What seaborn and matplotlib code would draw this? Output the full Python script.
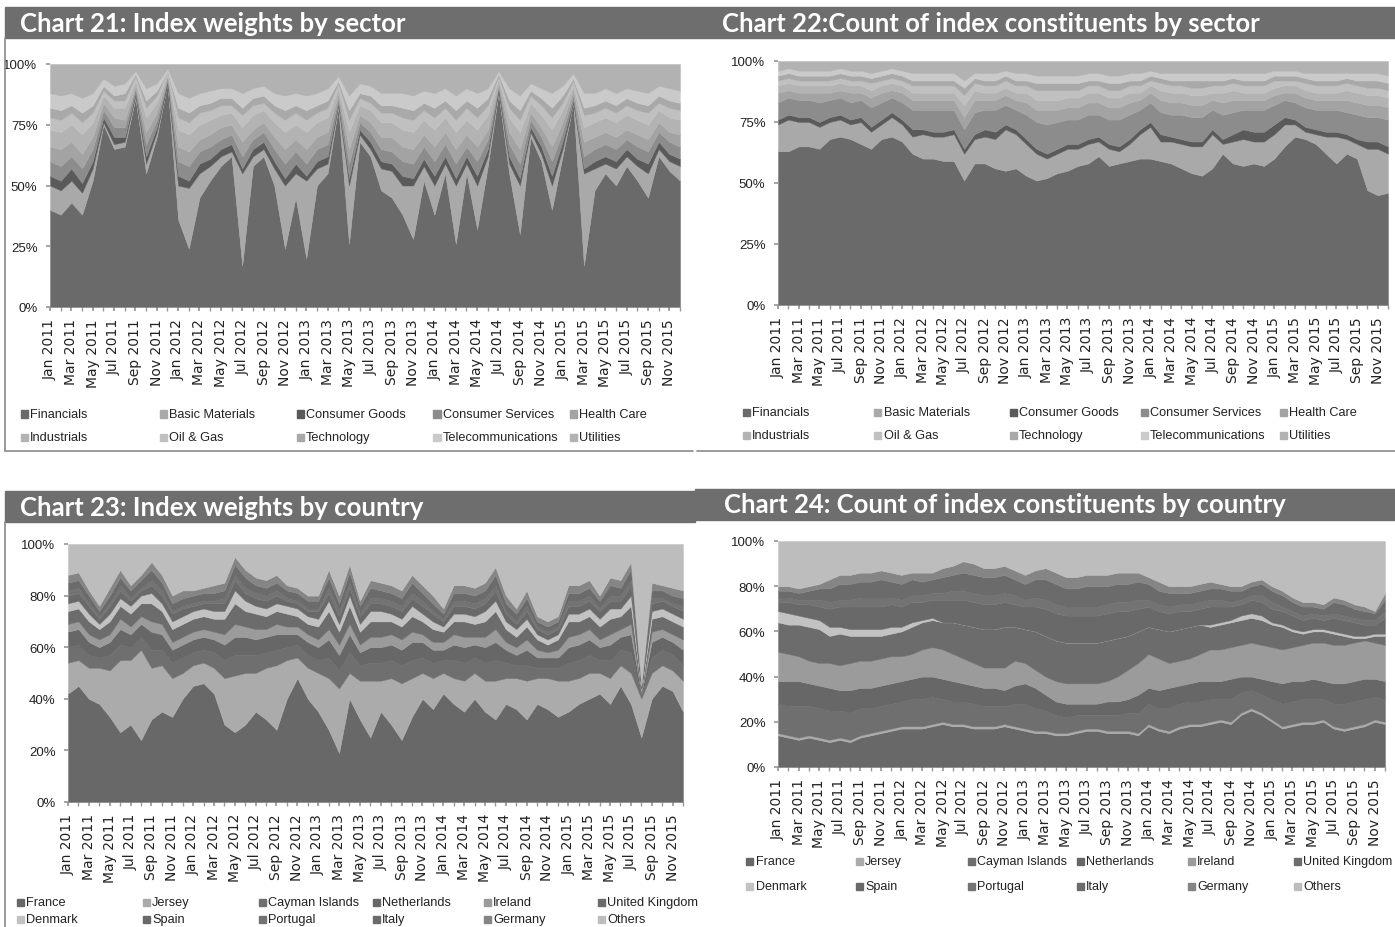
import numpy as np
import pandas as pd
import matplotlib
matplotlib.use("Agg")
import matplotlib.pyplot as plt
import seaborn as sns
from matplotlib.patches import Rectangle
from matplotlib.lines import Line2D

sns.set_theme(style="white")
plt.rcParams['font.family'] = ['DejaVu Sans']

W, H = 1395, 928
MONTHS = pd.date_range("2011-01-01", periods=60, freq="MS")
TICK_LABELS = [d.strftime("%b %Y") for d in MONTHS[::2]]

# ---------------- Sector data ----------------
SECTORS = ["Financials", "Basic Materials", "Consumer Goods", "Consumer Services", "Health Care",
           "Industrials", "Oil & Gas", "Technology", "Telecommunications", "Utilities"]
SECTOR_COLORS = ["#6a6a6a", "#a9a9a9", "#5a5a5a", "#8c8c8c", "#a3a3a3",
                 "#b3b3b3", "#c0c0c0", "#a9a9a9", "#cacaca", "#b2b2b2"]

# Chart 21: index weights by sector (%)
fin21 = [40,38,43,38,52,75,65,66,86,55,70,92, 36,24,45,52,58,62,17,58,62,50,24,45,
         20,50,55,82,26,68,62,48,45,38,28,52, 38,55,26,55,32,58,88,55,30,70,60,40,
         62,84,17,48,55,50,58,52,45,62,56,52]
bm21 = [10,10,9,9,5,1,2,2,1,4,2,0, 14,25,10,6,4,2,38,4,3,7,26,10,
        32,7,4,1,24,3,3,9,11,12,22,6, 12,4,24,4,18,4,1,4,20,2,3,10,
        3,0,38,9,4,7,4,6,10,3,4,6]
cg21 = [4,4,5,4,3,2,3,2,1,3,2,1, 4,3,4,3,3,3,2,3,3,3,3,4,
        2,3,3,1,3,2,3,3,3,4,3,3, 4,3,3,3,4,3,1,3,3,2,3,4,
        3,1,2,3,3,3,3,3,4,3,3,3]
cs21 = [6,6,5,6,5,3,4,4,2,5,3,1, 6,6,5,5,4,4,5,4,4,5,6,5,
        5,5,5,2,6,3,4,5,5,6,6,5, 6,5,6,4,6,4,1,5,6,3,4,6,
        4,2,5,5,5,5,4,5,5,4,5,5]
hc21 = [6,7,6,6,5,3,4,3,1,5,3,1, 6,6,5,5,5,4,6,4,4,5,6,5,
        6,5,5,2,6,3,4,5,6,6,6,5, 6,5,6,5,6,4,1,5,6,3,4,6,
        4,2,6,5,5,5,4,5,5,4,4,5]
in21 = [7,7,7,8,6,3,4,5,2,6,4,1, 7,7,6,6,5,5,6,6,5,6,7,6,
        7,6,6,2,7,4,5,6,6,7,7,6, 7,6,7,6,7,6,2,6,7,4,5,7,
        5,2,6,6,6,6,6,6,6,5,6,6]
og21 = [5,5,5,5,4,2,3,3,2,4,3,1, 5,5,5,4,4,3,5,4,3,4,5,5,
        5,4,4,2,5,3,3,4,4,5,5,4, 5,4,5,5,5,4,1,4,5,3,4,5,
        3,2,5,4,4,4,4,4,5,3,4,4]
te21 = [4,4,3,4,3,2,2,3,1,3,2,0, 4,4,3,3,3,3,3,3,3,3,4,3,
        4,3,3,1,4,2,3,3,3,4,4,3, 4,3,4,3,4,3,1,3,4,2,3,4,
        3,1,3,3,3,3,3,3,3,3,3,3]
tc21 = [6,6,5,6,5,3,4,4,1,5,3,1, 6,6,5,5,4,4,6,4,4,5,6,5,
        6,5,5,2,6,4,4,5,5,6,6,5, 6,5,6,5,6,4,1,5,6,3,4,6,
        4,2,6,5,5,5,4,5,5,4,5,5]
ut21 = [12,13,12,14,12,6,9,8,3,10,8,2, 12,14,12,11,10,10,12,10,9,12,13,12,
        13,12,10,5,13,8,9,12,12,12,13,11, 12,10,13,10,12,10,3,10,13,8,10,12,
        9,4,12,12,10,12,10,11,12,9,10,11]

# Chart 22: count of constituents by sector (%)
fin22 = [63,63,65,65,64,68,69,68,66,64,68,69, 67,62,60,60,59,59,51,58,58,56,55,56,
         53,51,52,54,55,57,58,61,57,58,59,60, 60,59,58,56,54,53,56,62,58,57,58,57,
         60,65,69,68,66,62,58,62,60,47,45,46]
bm22 = [11,13,10,10,9,7,7,6,9,7,6,8, 7,7,10,9,10,11,11,10,11,12,17,14,
        13,11,8,8,9,7,8,6,7,5,7,10, 13,8,9,10,11,12,14,4,9,11,9,10,
        10,9,5,3,4,7,11,6,6,17,19,16]
cg22 = [2,2,2,2,2,2,2,2,2,2,2,2, 2,3,2,2,2,2,2,2,3,3,2,2,
        2,2,2,2,2,2,2,2,2,2,2,2, 2,3,2,2,2,2,2,2,3,4,4,4,
        4,3,2,2,2,2,2,2,2,3,3,3]
cs22 = [7,7,7,7,8,7,7,7,7,8,7,6, 7,8,8,9,9,8,8,9,8,9,8,8,
        10,11,12,11,10,10,10,9,10,11,10,8, 8,9,9,10,10,10,8,10,9,8,9,9,
        8,7,7,8,8,9,9,9,10,10,10,11]
hc22 = [4,3,3,3,4,3,3,4,3,4,4,3, 4,4,4,4,4,4,5,5,4,4,4,4,
        5,5,6,5,5,5,5,5,5,5,5,4, 4,5,5,5,5,5,4,5,5,4,4,4,
        4,3,4,4,4,4,4,5,5,5,5,5]
in22 = [3,3,3,3,3,3,3,3,3,3,3,3, 3,3,3,3,3,3,5,4,3,3,3,3,
        4,4,4,4,4,4,4,4,4,4,4,3, 3,4,4,4,4,4,3,4,4,3,3,3,
        3,3,3,3,3,3,3,4,4,4,4,4]
og22 = [2,2,2,2,2,2,2,2,2,3,2,2, 2,3,3,3,3,3,4,3,3,3,3,3,
        3,4,4,4,3,3,3,3,3,3,3,3, 2,3,3,3,3,3,3,3,3,3,3,3,
        3,2,2,3,3,3,3,3,3,3,3,3]
te22 = [2,2,2,2,2,2,2,2,2,2,2,2, 2,2,2,2,2,2,3,2,2,2,2,2,
        2,3,3,3,3,3,2,2,3,3,2,2, 2,2,2,2,3,3,2,2,2,2,2,2,
        2,2,2,2,2,2,2,2,2,3,3,3]
tc22 = [2,2,2,2,2,2,2,2,2,2,2,2, 2,3,3,3,3,3,3,2,3,3,2,3,
        3,3,3,3,3,3,3,3,3,3,3,3, 2,2,3,3,3,3,3,3,2,3,3,3,
        2,2,2,2,3,3,3,2,3,3,3,3]
ut22 = [4,3,4,4,4,4,3,4,4,5,4,3, 4,5,5,5,5,5,8,5,5,5,4,5,
        5,6,6,6,6,6,5,5,6,6,5,5, 4,5,5,5,5,5,5,5,5,5,5,5,
        4,4,4,5,5,5,5,5,5,5,5,6]

# ---------------- Country data ----------------
COUNTRIES = ["France", "Jersey", "Cayman Islands", "Netherlands", "Ireland", "United Kingdom",
             "Denmark", "Spain", "Portugal", "Italy", "Germany", "Others"]
COUNTRY_COLORS = ["#686868", "#ababab", "#6f6f6f", "#676767", "#9b9b9b", "#6c6c6c",
                  "#c2c2c2", "#696969", "#737373", "#6b6b6b", "#858585", "#bdbdbd"]

# Chart 23: index weights by country (%)
fr23 = [42,45,40,38,33,27,30,24,32,35,33,40, 45,46,42,30,27,30,35,32,28,40,48,40,
        35,28,19,40,32,25,35,30,24,33,40,36, 42,38,35,40,35,32,38,36,32,38,36,33,
        35,38,40,42,38,45,38,25,40,45,43,35]
je23 = [12,10,12,14,18,28,25,35,20,18,15,10, 8,8,10,18,22,20,15,20,25,15,8,12,
        15,20,25,10,15,22,12,18,22,15,10,12, 8,10,12,10,12,15,10,12,15,10,12,14,
        12,10,10,8,10,8,12,15,10,8,8,12]
ci23 = [6,6,5,4,6,6,5,5,7,6,6,6, 5,5,6,7,8,7,7,6,6,5,5,5,
        5,8,7,8,6,7,7,7,7,7,6,6, 5,7,7,6,7,8,6,5,6,4,4,5,
        7,7,7,5,7,6,8,1,6,6,6,6]
nl23 = [6,6,5,4,5,6,5,5,7,6,5,5, 5,5,5,6,7,7,6,6,6,5,4,5,
        5,7,6,7,5,6,6,6,6,7,6,5, 4,6,6,5,6,7,5,4,6,4,4,4,
        6,6,6,5,6,5,7,1,6,5,5,6]
ie23 = [3,3,3,3,3,4,3,3,4,4,3,3, 3,3,3,4,5,4,4,3,4,3,3,3,
        3,4,4,4,3,4,4,4,4,4,3,3, 3,4,4,3,4,5,3,3,4,3,2,3,
        4,4,4,3,4,3,4,0,4,3,3,4]
uk23 = [5,5,5,4,5,5,5,5,7,5,5,5, 5,5,5,6,8,6,6,5,5,5,4,4,
        5,7,5,7,5,6,6,5,5,6,5,5, 4,5,6,5,6,7,5,4,5,4,3,4,
        6,5,5,5,6,5,7,1,5,5,5,5]
dk23 = [3,3,3,2,3,3,3,3,4,3,3,3, 3,3,3,3,5,4,3,3,3,3,3,3,
        3,4,3,4,3,4,4,3,3,4,3,3, 2,3,3,3,4,4,3,3,3,2,2,2,
        3,3,3,3,4,3,4,1,3,3,3,3]
es23 = [3,3,3,2,3,3,2,2,3,3,3,3, 2,2,3,3,4,3,3,3,3,2,2,2,
        3,3,3,3,3,3,3,3,3,3,3,3, 2,3,3,3,3,4,3,2,3,2,2,2,
        3,3,3,3,3,3,4,0,3,3,3,3]
pt23 = [2,2,1,1,1,2,1,1,2,2,1,1, 1,1,1,2,2,2,2,2,2,1,1,1,
        1,2,2,2,1,2,2,2,2,2,2,1, 1,2,2,2,2,2,1,1,2,1,1,1,
        2,2,2,1,2,2,2,0,2,1,1,2]
it23 = [3,3,3,2,3,3,3,3,4,3,3,3, 3,3,3,3,4,4,3,3,3,3,3,3,
        3,4,3,4,3,4,3,3,3,4,3,3, 2,3,3,3,3,4,3,3,3,2,2,2,
        3,3,3,3,4,3,4,1,3,3,3,3]
de23 = [3,3,2,2,3,3,2,2,3,3,3,3, 2,2,3,3,3,3,3,3,3,2,2,2,
        2,3,3,3,2,3,3,3,3,3,3,3, 2,3,3,3,3,3,3,2,3,2,2,2,
        3,3,3,2,3,3,3,0,3,2,3,3]
ot23 = [12,11,18,24,17,10,16,12,7,12,20,18, 18,17,16,15,5,10,13,14,12,16,17,20,
        20,10,20,8,22,14,15,16,18,12,16,20, 25,16,16,17,15,9,20,25,18,28,30,28,
        16,16,14,20,13,14,7,55,15,16,17,18]

# Chart 24: count of constituents by country (%)
fr24 = [14,13,12,13,12,11,12,11,13,14,15,16, 17,17,17,18,19,18,18,17,17,17,18,17,
        16,15,15,14,14,15,16,16,15,15,15,14, 18,16,15,17,18,18,19,20,19,23,25,23,
        20,17,18,19,19,20,17,16,17,18,20,19]
je24 = [1,1,1,1,1,1,1,1,1,1,1,1, 1,1,1,1,1,1,1,1,1,1,1,1,
        1,1,1,1,1,1,1,1,1,1,1,1, 1,1,1,1,1,1,1,1,1,1,1,1,
        1,1,1,1,1,1,1,1,1,1,1,1]
ci24 = [13,13,14,13,13,13,12,12,12,11,11,11, 11,12,12,12,10,10,10,10,9,9,8,10,
        11,10,9,8,7,7,6,6,7,7,8,9, 9,9,10,10,10,10,10,9,10,9,8,8,
        9,10,10,10,10,9,10,11,11,11,10,10]
nl24 = [10,11,11,10,10,10,9,10,9,9,9,9, 9,9,10,9,9,9,8,8,8,8,7,8,
        9,9,7,6,6,5,5,5,6,6,6,8, 7,8,9,8,8,9,8,8,9,7,6,7,
        8,9,9,8,9,8,9,9,9,9,8,8]
ie24 = [13,12,11,10,10,11,11,12,12,12,12,12, 11,11,12,13,13,12,11,10,9,9,10,11,
        9,8,8,9,9,9,9,9,9,11,13,14, 15,14,11,11,11,12,14,14,14,14,15,15,
        15,15,15,16,16,17,17,17,17,17,16,16]
uk24 = [13,13,14,15,15,12,14,12,11,11,10,10, 11,12,12,12,12,14,15,16,17,17,18,15,
        15,17,18,18,18,18,18,18,18,17,15,14, 12,13,14,14,14,13,10,11,11,11,11,11,
        10,10,7,5,5,5,5,4,2,1,3,4]
dk24 = [5,5,4,4,4,4,3,3,3,3,3,3, 2,2,1,1,0,0,0,0,0,0,0,0,
        0,0,0,0,0,0,0,0,0,0,0,0, 0,0,0,0,0,0,1,1,1,2,2,2,
        1,1,1,1,1,1,1,1,1,1,1,1]
es24 = [4,5,5,6,6,8,9,10,10,10,10,10, 9,9,8,8,10,10,11,11,11,11,11,10,
        10,11,12,12,12,12,12,12,12,12,11,10, 9,8,8,8,7,7,8,7,6,5,6,6,
        6,6,6,5,5,4,6,6,6,5,4,7]
pt24 = [2,2,2,2,3,3,3,3,4,4,4,3, 3,3,3,3,3,4,4,4,4,4,4,4,
        3,4,4,4,4,4,4,4,4,4,4,4, 3,3,3,3,3,3,3,3,2,2,2,3,
        3,2,2,2,2,2,2,2,2,2,2,3]
it24 = [3,3,3,4,5,6,7,7,7,7,8,7, 7,7,6,6,7,7,8,8,8,8,8,7,
        7,8,9,9,8,8,9,9,8,8,8,8, 7,6,6,5,5,5,5,5,5,4,4,5,
        5,5,4,4,3,3,5,5,4,4,3,5]
de24 = [2,2,2,2,2,4,4,4,4,4,4,4, 4,3,4,3,4,4,5,5,4,4,4,4,
        4,4,5,5,5,5,5,5,5,5,5,4, 3,4,3,3,3,3,3,2,2,2,2,2,
        2,2,2,2,2,2,2,2,2,2,1,3]
ot24 = [20,20,21,20,19,17,15,15,14,14,13,14, 15,14,14,14,12,11,9,10,12,12,11,13,
        15,13,12,14,16,16,15,15,15,14,14,14, 16,18,20,20,20,19,18,19,20,20,18,17,
        20,22,25,27,27,28,25,26,28,29,31,23]

NARROW = ['Liberation Sans', 'DejaVu Sans']

fig = plt.figure(figsize=(W / 100, H / 100), dpi=100, facecolor="white")


def px_rect(x0, y0, x1, y1):
    return [x0 / W, 1 - y1 / H, (x1 - x0) / W, (y1 - y0) / H]


def title_bar(x0, y0, x1, y1, text, tx):
    fig.patches.append(Rectangle((x0 / W, 1 - y1 / H), (x1 - x0) / W, (y1 - y0) / H,
                                 transform=fig.transFigure, color="#6e6e6e", zorder=0))
    fig.text(tx / W, 1 - (y0 + y1) / 2 / H, text, color="white", fontsize=18.5,
             fontweight="bold", family=['Lato', 'DejaVu Sans'], va="center", ha="left")


def area_panel(rect, names, values, colors, yticks):
    ax = fig.add_axes(px_rect(*rect))
    df = pd.DataFrame(dict(zip(names, values)), index=np.arange(len(MONTHS)))
    pct = df.div(df.sum(axis=1), axis=0) * 100
    polys = ax.stackplot(pct.index, pct.T.values, colors=colors, linewidth=0)
    for p, c in zip(polys, colors):
        p.set_edgecolor(c)
        p.set_linewidth(0.3)
    ax.set_xlim(0, len(MONTHS) - 1)
    ax.set_ylim(0, 100)
    ax.set_xticks(np.arange(0, len(MONTHS), 2))
    ax.set_xticklabels(TICK_LABELS, rotation=90, fontsize=10, color="#222222")
    ax.set_xticks(np.arange(len(MONTHS)), minor=True)
    ax.set_yticks(yticks)
    ax.set_yticklabels([f"{t}%" for t in yticks], fontsize=9.5, family=NARROW, color="#222222")
    for s in ax.spines.values():
        s.set_visible(False)
    ax.tick_params(axis="x", which="both", bottom=True, length=3, color="#999999", pad=5)
    ax.tick_params(axis="y", left=True, length=3, color="#999999", pad=6)
    ax.grid(False)
    return ax


def legend_block(names, colors, xs, ys, ncol, size=9.2):
    for i, (n, c) in enumerate(zip(names, colors)):
        r, k = divmod(i, ncol)
        x, y = xs[k], ys[r]
        fig.patches.append(Rectangle(((x - 3.5) / W, 1 - (y + 3.5) / H), 7 / W, 7 / H,
                                     transform=fig.transFigure, color=c, zorder=3))
        fig.text((x + 6) / W, 1 - y / H, n, fontsize=size, family=NARROW, color="#222222",
                 va="center", ha="left")


def frame_line(x0, y0, x1, y1):
    fig.lines.append(Line2D([x0 / W, x1 / W], [1 - y0 / H, 1 - y1 / H],
                            transform=fig.transFigure, color="#8a8a8a", linewidth=1.2))


# Titles
title_bar(5, 8, 695, 39, "Chart 21: Index weights by sector", 20)
title_bar(695, 8, 1395, 39, "Chart 22:Count of index constituents by sector", 722)
title_bar(5, 492, 695, 523, "Chart 23: Index weights by country", 20)
title_bar(695, 490, 1395, 521, "Chart 24: Count of index constituents by country", 724)

# Frames
frame_line(5, 39, 5, 452)
frame_line(5, 452, 693, 452)
frame_line(697, 452, 1395, 452)
frame_line(5, 523, 5, 928)

# Panels
area_panel((50, 65, 680, 308), SECTORS,
           [fin21, bm21, cg21, cs21, hc21, in21, og21, te21, tc21, ut21],
           SECTOR_COLORS, [0, 25, 50, 75, 100])
area_panel((778, 62, 1388, 306), SECTORS,
           [fin22, bm22, cg22, cs22, hc22, in22, og22, te22, tc22, ut22],
           SECTOR_COLORS, [0, 25, 50, 75, 100])
area_panel((68, 545, 683, 803), COUNTRIES,
           [fr23, je23, ci23, nl23, ie23, uk23, dk23, es23, pt23, it23, de23, ot23],
           COUNTRY_COLORS, [0, 20, 40, 60, 80, 100])
area_panel((778, 542, 1385, 768), COUNTRIES,
           [fr24, je24, ci24, nl24, ie24, uk24, dk24, es24, pt24, it24, de24, ot24],
           COUNTRY_COLORS, [0, 20, 40, 60, 80, 100])

# Legends
legend_block(SECTORS, SECTOR_COLORS, [24, 163, 300, 437, 573], [415, 438], 5)
legend_block(SECTORS, SECTOR_COLORS, [746, 878, 1013, 1144, 1283], [413, 436], 5)
legend_block(COUNTRIES, COUNTRY_COLORS, [20, 146, 262, 376, 487, 601], [903, 920], 6)
legend_block(COUNTRIES, COUNTRY_COLORS, [750, 859, 971, 1080, 1191, 1297], [862, 887], 6, size=9)

fig.savefig("out.png", dpi=100, facecolor="white")
